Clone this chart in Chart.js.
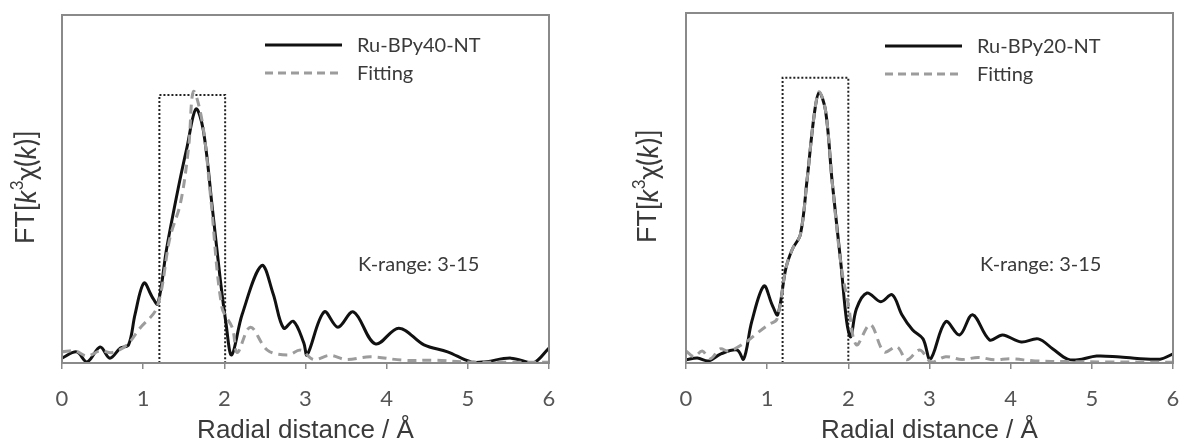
<!DOCTYPE html>
<html>
<head>
<meta charset="utf-8">
<script src="https://cdn.jsdelivr.net/npm/chart.js@4"></script>
<style>
  body { margin: 0; background: #fff; }
  .panel { position: absolute; top: 0; }
</style>
</head>
<body>
<canvas id="left" class="panel" width="591" height="444" style="left:0"></canvas>
<canvas id="right" class="panel" width="591" height="444" style="left:591px"></canvas>
<script>
// EXAFS FT 두 패널: Ru-BPy40-NT / Ru-BPy20-NT, 실험값(실선) vs 피팅(점선)

const xTicks = [0, 1, 2, 3, 4, 5, 6];

const r40Exp = [0, 0.18, 0.31, 0.47, 0.59, 0.72, 0.82, 0.90, 1.01, 1.11, 1.18, 1.29, 1.43, 1.54, 1.65, 1.74, 1.85, 1.95, 2.02, 2.09, 2.22, 2.46, 2.60, 2.73, 2.85, 2.98, 3.02, 3.23, 3.40, 3.59, 3.86, 4.15, 4.46, 4.75, 5.04, 5.20, 5.53, 5.80, 6.0];
const ft40Exp = [1.4, 3.2, 0.3, 4.6, 1.4, 4.3, 5.2, 14, 23, 19, 17, 33, 50, 62, 73, 67, 45, 24, 11.5, 2.3, 14, 28, 20, 10, 12, 5.7, 2.3, 14.7, 10.3, 14.7, 5.5, 10, 5.2, 3.2, 0.3, 0.3, 1.4, 0, 4.3];
const r40Fit = [0, 0.16, 0.31, 0.47, 0.62, 0.80, 0.96, 1.17, 1.33, 1.46, 1.56, 1.62, 1.73, 1.83, 1.97, 2.10, 2.16, 2.32, 2.53, 2.78, 2.94, 3.1, 3.3, 3.5, 3.8, 4.2, 4.6, 5.0, 5.5, 6.0];
const ft40Fit = [3.2, 3.5, 2, 3.5, 3, 5.2, 10, 16, 36, 46, 62, 78, 69, 48, 16, 10, 3, 10.3, 3.7, 2.3, 3.7, 1.0, 2.2, 1.0, 1.8, 0.8, 0.8, 0.3, 0.2, 0.2];

const r20Exp = [0, 0.14, 0.28, 0.43, 0.63, 0.71, 0.81, 0.96, 1.06, 1.13, 1.23, 1.31, 1.41, 1.49, 1.58, 1.64, 1.72, 1.80, 1.91, 1.98, 2.03, 2.10, 2.23, 2.40, 2.54, 2.66, 2.79, 2.92, 3.01, 3.20, 3.37, 3.53, 3.74, 3.90, 4.13, 4.34, 4.52, 4.70, 4.83, 5.06, 5.35, 5.84, 6.0];
const ft20Exp = [0.9, 1.4, 0.6, 2.6, 3.7, 1.1, 11.8, 22, 16.7, 13.8, 27, 32.5, 36.8, 52, 71, 77.3, 72, 52, 28, 11.8, 7.5, 15.5, 20, 17.5, 19.5, 13.8, 9.5, 6.9, 1.1, 11.8, 8, 13.8, 6.6, 8, 6, 6.9, 4, 1.1, 0.9, 2, 1.7, 1.1, 2.6];
const r20Fit = [0, 0.1, 0.2, 0.3, 0.42, 0.53, 0.74, 0.87, 1.02, 1.12, 1.23, 1.31, 1.41, 1.49, 1.58, 1.64, 1.72, 1.80, 1.91, 2.0, 2.1, 2.27, 2.44, 2.6, 2.72, 2.88, 3.02, 3.2, 3.4, 3.6, 3.8, 4.0, 4.3, 4.7, 5.2, 6.0];
const ft20Fit = [3.4, 1.8, 3.4, 1.2, 4, 3.4, 6, 8.4, 11, 12.5, 27, 32.5, 36.8, 52, 71, 77.5, 72, 52, 28, 16.7, 5.2, 11, 3.2, 4.6, 0.9, 3.7, 0.3, 1.8, 1.0, 1.6, 0.9, 1.2, 0.6, 0.4, 0.3, 0.2];

// 피팅 구간 점선 박스 (R 범위, 높이)
const box40X = [1.2, 1.2, 2.01, 2.01];
const box40Y = [0, 77, 77, 0];
const box20X = [1.19, 1.19, 2.0, 2.0];
const box20Y = [0, 81.5, 81.5, 0];
const baseX = [0, 6];
const baseY = [0, 0];

const COL = { exp: "#111", fit: "#9c9c9c", frame: "#8a8a8a", text: "#3a3a3a", tick: "#555" };
const zip = (xs, ys) => xs.map((x, i) => ({ x, y: ys[i] }));

// 프레임, y축 제목(이탤릭 k), 범례, K-range 주석
const decor = {
  id: "decor",
  afterDraw(chart, args, o) {
    const { ctx, chartArea: a } = chart;
    ctx.save();
    ctx.strokeStyle = COL.frame; ctx.lineWidth = 2;
    ctx.strokeRect(a.left, a.top, a.right - a.left, a.bottom - a.top);

    // y title
    const segs = [
      { t: "FT[", f: "27px 'Liberation Sans'" },
      { t: "k", f: "italic 28px Lato" },
      { t: "3", f: "17px Lato", up: 9 },
      { t: "χ(", f: "28px Lato" },
      { t: "k", f: "italic 28px Lato" },
      { t: ")]", f: "28px Lato" },
    ];
    ctx.translate(o.titleX, (a.top + a.bottom) / 2 - 2);
    ctx.rotate(-Math.PI / 2);
    let w = 0;
    segs.forEach((s) => { ctx.font = s.f; w += ctx.measureText(s.t).width; });
    let x = -w / 2;
    ctx.fillStyle = COL.text; ctx.textBaseline = "middle";
    segs.forEach((s) => {
      ctx.font = s.f; ctx.fillText(s.t, x, -(s.up || 0));
      x += ctx.measureText(s.t).width;
    });
    ctx.setTransform(1, 0, 0, 1, 0, 0);

    // legend
    const items = [
      { label: o.name, color: COL.exp, dash: [] },
      { label: "Fitting", color: COL.fit, dash: [8, 5] },
    ];
    items.forEach((it, i) => {
      const y = o.legY + i * 28;
      ctx.strokeStyle = it.color; ctx.lineWidth = 3; ctx.setLineDash(it.dash);
      ctx.beginPath(); ctx.moveTo(o.legX, y); ctx.lineTo(o.legX + 77, y); ctx.stroke();
      ctx.setLineDash([]);
      ctx.font = "20px Lato"; ctx.fillStyle = COL.text; ctx.textBaseline = "middle";
      ctx.fillText(it.label, o.legX + 92, y + 1);
    });
    ctx.fillText("K-range: 3-15", o.noteX, 265);
    ctx.restore();
  },
};

function panel(id, name, rE, fE, rF, fF, bx, by, pad, deco) {
  new Chart(document.getElementById(id), {
    type: "line",
    data: {
      datasets: [
        { label: "Fitting", data: zip(rF, fF), borderColor: COL.fit, borderWidth: 3,
          borderDash: [9, 6], tension: 0.35, order: 0 },
        { label: name, data: zip(rE, fE), borderColor: COL.exp, borderWidth: 3,
          tension: 0.35, order: 1 },
        { data: zip(bx, by), borderColor: "#222", borderWidth: 2, borderDash: [2, 2], tension: 0, order: 2 },
        { data: zip(baseX, baseY), borderColor: "#333", borderWidth: 1.5, borderDash: [2, 2], tension: 0, order: 3 },
      ],
    },
    options: {
      responsive: false, animation: false, devicePixelRatio: 1,
      elements: { point: { radius: 0 } },
      layout: { padding: pad },
      plugins: { legend: { display: false }, tooltip: { enabled: false }, decor: deco },
      scales: {
        x: {
          type: "linear", min: 0, max: 6,
          afterFit: (s) => { s.height = 81; s.paddingLeft = 0; s.paddingRight = 0; },
          afterBuildTicks: (s) => { s.ticks = xTicks.map((v) => ({ value: v })); },
          ticks: { color: COL.tick, font: { family: "Lato", size: 22 }, padding: 17 },
          grid: { drawOnChartArea: false, tickLength: 6, color: COL.frame, lineWidth: 1.5 },
          border: { display: false },
          title: { display: true, text: "Radial distance / Å", color: COL.text, padding: { top: 0, bottom: -2 },
            font: { family: "Liberation Sans", size: 26 } },
        },
        y: { display: false, min: 0, max: 100 },
      },
    },
    plugins: [decor],
  });
}

panel("left", "Ru-BPy40-NT", r40Exp, ft40Exp, r40Fit, ft40Fit, box40X, box40Y,
  { left: 62, top: 15, right: 42, bottom: 0 }, { name: "Ru-BPy40-NT", titleX: 27, legX: 265, legY: 45, noteX: 358 });
panel("right", "Ru-BPy20-NT", r20Exp, ft20Exp, r20Fit, ft20Fit, box20X, box20Y,
  { left: 95, top: 13, right: 9, bottom: 0 }, { name: "Ru-BPy20-NT", titleX: 58, legX: 294, legY: 46, noteX: 389 });
</script>
</body>
</html>
